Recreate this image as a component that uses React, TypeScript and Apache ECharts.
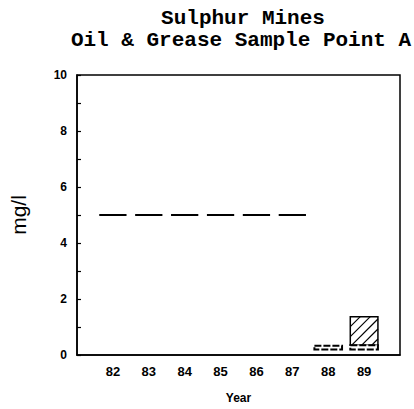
import React, { useEffect, useRef } from "react";
import * as echarts from "echarts";

const years = [82, 83, 84, 85, 86, 87, 88, 89];
// "< detection limit" values drawn as short dashes
const detectionLimit = [5, 5, 5, 5, 5, 5, null, null];
// measured ranges (floating boxes)
const rangeLow = [null, null, null, null, null, null, 0.2, 0.2];
const rangeMid = [null, null, null, null, null, null, 0.33, 0.35];
const rangeHigh = [null, null, null, null, null, null, null, 1.37];
const yLabels = [0, 2, 4, 6, 8, 10];

export default function App() {
  const ref = useRef<HTMLDivElement>(null);
  useEffect(() => {
    if (!ref.current) return;
    const chart = echarts.init(ref.current, null, { renderer: "svg" });
    const dashData = years
      .map((y, i) => (detectionLimit[i] == null ? null : [y, detectionLimit[i]]))
      .filter((d) => d !== null);
    const boxData = years
      .map((y, i) =>
        rangeLow[i] == null
          ? null
          : [y, rangeLow[i], rangeMid[i], rangeHigh[i] == null ? rangeMid[i] : rangeHigh[i]]
      )
      .filter((d) => d !== null);

    chart.setOption({
      animation: false,
      title: [
        {
          text: "Sulphur Mines",
          left: 238,
          textAlign: "center",
          top: 3,
          textStyle: { fontFamily: "Liberation Mono", fontWeight: "bold", fontSize: 21, color: "#000" },
        },
        {
          text: "Oil & Grease Sample Point A",
          left: 236,
          textAlign: "center",
          top: 25,
          textStyle: { fontFamily: "Liberation Mono", fontWeight: "bold", fontSize: 21, color: "#000" },
        },
      ],
      grid: {
        left: 75,
        right: 14,
        top: 75,
        bottom: 48,
        show: true,
        borderColor: "#000",
        borderWidth: 1.5,
        backgroundColor: "transparent",
      },
      xAxis: {
        type: "value",
        min: 81,
        max: 90,
        interval: 1,
        name: "Year",
        nameLocation: "middle",
        nameGap: 37,
        nameTextStyle: { fontFamily: "Liberation Sans", fontWeight: "bold", fontSize: 12, color: "#000" },
        axisLine: { show: true, lineStyle: { color: "#000", width: 1.5 } },
        axisTick: { show: false },
        splitLine: { show: false },
        axisLabel: {
          margin: 10,
          fontFamily: "Liberation Sans",
          fontWeight: "bold",
          fontSize: 13,
          color: "#000",
          formatter: (v: number) => (years.indexOf(v) >= 0 ? String(v) : ""),
        },
      },
      yAxis: {
        type: "value",
        min: 0,
        max: 10,
        interval: 1,
        name: "mg/l",
        nameLocation: "middle",
        nameGap: 48,
        nameRotate: 90,
        nameTextStyle: { fontFamily: "Liberation Sans", fontSize: 21, color: "#000" },
        axisLine: { show: true, lineStyle: { color: "#000", width: 1.5 } },
        axisTick: { show: true, inside: true, length: 4, lineStyle: { color: "#000", width: 1.2 } },
        splitLine: { show: false },
        axisLabel: {
          margin: 10,
          fontFamily: "Liberation Sans",
          fontWeight: "bold",
          fontSize: 12,
          color: "#000",
          formatter: (v: number) => (yLabels.indexOf(v) >= 0 ? String(v) : ""),
        },
      },
      series: [
        {
          type: "custom",
          data: dashData,
          renderItem: (params: any, api: any) => {
            const x = api.value(0);
            const v = api.value(1);
            const half = api.size([1, 0])[0] * 0.38;
            const p = api.coord([x, v]);
            return {
              type: "line",
              shape: { x1: p[0] - half, y1: p[1], x2: p[0] + half, y2: p[1] },
              style: { stroke: "#000", lineWidth: 2 },
            };
          },
        },
        {
          type: "custom",
          data: boxData,
          renderItem: (params: any, api: any) => {
            const x = api.value(0);
            const low = api.value(1);
            const mid = api.value(2);
            const high = api.value(3);
            const half = api.size([1, 0])[0] * 0.385;
            const pL = api.coord([x, low]);
            const pM = api.coord([x, mid]);
            const pH = api.coord([x, high]);
            const children: any[] = [];
            if (high > mid) {
              const x0 = pL[0] - half;
              const x1 = pL[0] + half;
              const y0 = pH[1];
              const y1 = pM[1];
              children.push({
                type: "rect",
                shape: { x: x0, y: y0, width: x1 - x0, height: y1 - y0 },
                style: { fill: "#fff", stroke: "#000", lineWidth: 1.5 },
              });
              const step = 10;
              for (let c = x0 + y0 + step; c < x1 + y1 - 2; c += step) {
                const xa = Math.max(x0, c - y1);
                const xb = Math.min(x1, c - y0);
                if (xb - xa < 1) continue;
                children.push({
                  type: "line",
                  shape: { x1: xa, y1: c - xa, x2: xb, y2: c - xb },
                  style: { stroke: "#000", lineWidth: 1.2 },
                });
              }
            }
            children.push({
              type: "rect",
              shape: { x: pL[0] - half, y: pM[1], width: 2 * half, height: pL[1] - pM[1] },
              style: { fill: "#fff", stroke: "#000", lineWidth: 2, lineDash: [7, 2] },
            });
            return { type: "group", children };
          },
        },
      ],
    });
    return () => chart.dispose();
  }, []);
  return (
    <div
      ref={ref}
      style={{ position: "fixed", left: 0, top: 0, width: 414, height: 409, background: "#fff" }}
    />
  );
}
